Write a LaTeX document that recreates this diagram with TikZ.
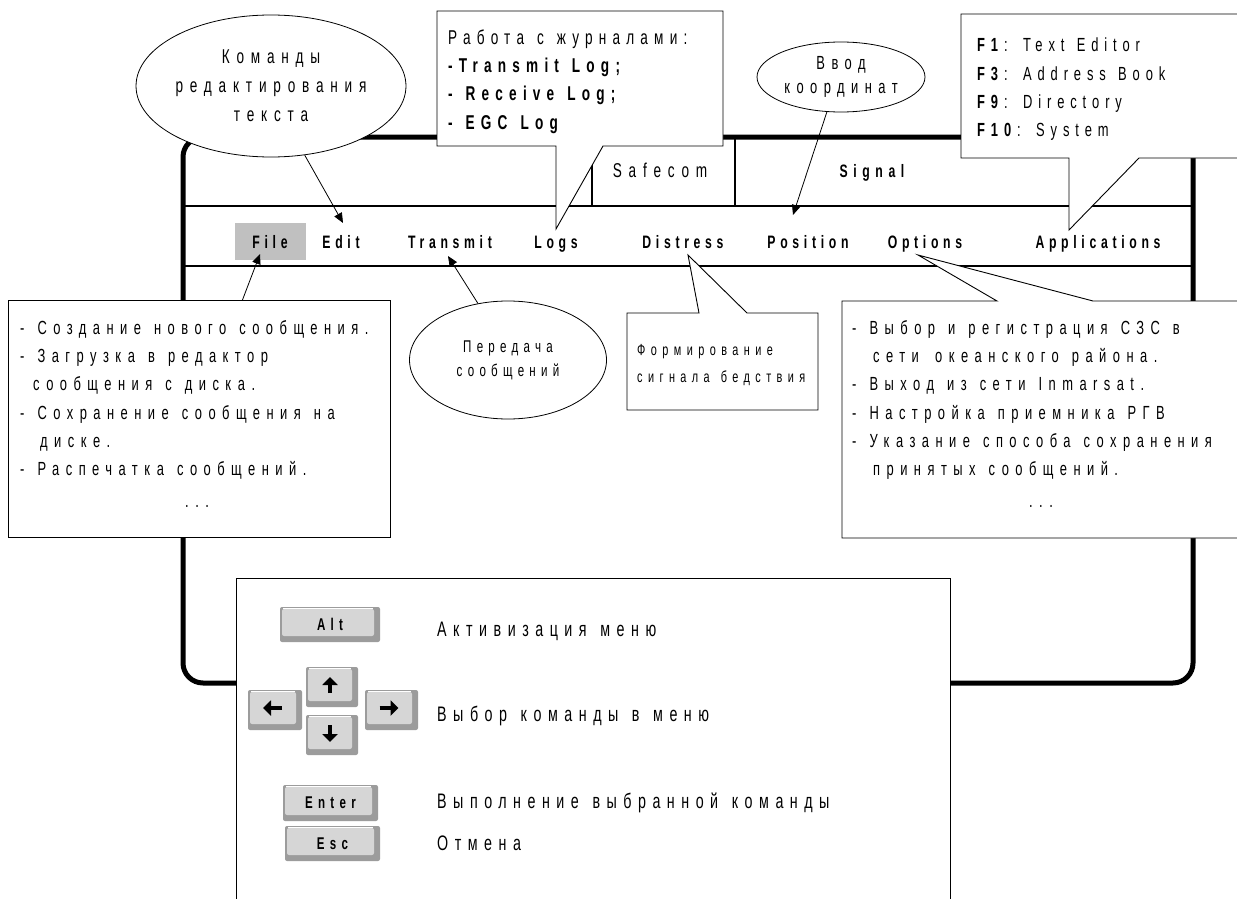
\documentclass[tikz,border=0pt]{standalone}
\usepackage{fontspec}
\setmainfont{Liberation Sans}[FakeStretch=0.68,LetterSpace=34,WordSpace=1.3]
\newfontfamily\lsB{Liberation Sans}[FakeStretch=0.68,LetterSpace=31,WordSpace=1.3]
\newfontfamily\lsC{Liberation Sans}[FakeStretch=0.68,LetterSpace=26,WordSpace=1.3]
\newfontfamily\lsD{Liberation Sans}[FakeStretch=0.68,LetterSpace=31,WordSpace=1.3]
\usetikzlibrary{arrows.meta,shapes.geometric}

\definecolor{menugray}{HTML}{C0C0C0}
\definecolor{keyface}{HTML}{D6D6D6}
\definecolor{keyedge}{HTML}{9C9C9C}

\begin{document}
\begin{tikzpicture}[x=1pt,y=-1pt,
  txt/.style={inner sep=0pt, font=\fontsize{19}{28.3}\selectfont},
  menu/.style={inner sep=0pt, anchor=base, font=\lsC\fontsize{18}{20}\selectfont\bfseries},
  lbl/.style={inner sep=0pt, anchor=west, font=\lsD\fontsize{21}{24}\selectfont},
  bubble/.style={draw=black, line width=0.8pt, fill=white, ellipse, inner sep=0pt, align=center},
  callout/.style={draw=black, line width=0.9pt, fill=white},
  pointer/.style={line width=0.8pt, -{Triangle[length=10pt,width=8.5pt]}},
  keycap/.style={fill=keyedge, rounded corners=2pt, inner sep=0pt,
    font=\lsD\fontsize{17}{18}\selectfont\bfseries,
    path picture={
      \fill[keyface, rounded corners=2pt]
        ([shift={(2pt,-2pt)}]path picture bounding box.north west) rectangle
        ([shift={(-6pt,6pt)}]path picture bounding box.south east);
      \draw[white, line width=1pt]
        ([shift={(3pt,-1.5pt)}]path picture bounding box.north west) --
        ([shift={(-7pt,-1.5pt)}]path picture bounding box.north east);
    }},
  keyarrow/.style={line width=4.5pt, -{Triangle[length=8pt,width=15pt]}},
]
\useasboundingbox (0,0) rectangle (1237,899);
\clip (0,0) rectangle (1237,899);

% program window
\draw[line width=5pt, rounded corners=20pt] (183,137) rectangle (1193,683);
\draw[line width=1.8pt] (183,206) -- (1193,206) (183,266) -- (1193,266);
\draw[line width=1.8pt] (592,137) -- (592,206) (735,137) -- (735,206);

% title bar
\node[inner sep=0pt, anchor=base, font=\fontsize{20}{22}\selectfont] (safecom) at (660,177) {Safecom};
\node[inner sep=0pt, anchor=base, font=\lsD\fontsize{18}{20}\selectfont\bfseries] (signal) at (872,177) {Signal};

% menu bar
\node[fill=menugray, minimum width=71, minimum height=37, inner sep=0pt] (filebg) at (270.5,241.5) {};
\node[menu] (file) at (270,248) {File};
\node[menu] (edit) at (341,248) {Edit};
\node[menu] (transmit) at (450,248) {Transmit};
\node[menu] (logs) at (556,248) {Logs};
\node[menu] (distress) at (683,248) {Distress};
\node[menu] (position) at (808,248) {Position};
\node[menu] (options) at (925,248) {Options};
\node[menu] (apps) at (1098,248) {Applications};

\coordinate (editTip) at (343,223);
\coordinate (fileTip) at (260,254);
\coordinate (transmitTip) at (448,256);
\coordinate (positionTip) at (793,215);

% ellipse notes
\node[bubble, minimum width=262, minimum height=142, font=\fontsize{20}{29}\selectfont]
  (editnote) at (271,86) {Команды\\редактирования\\текста};
\node[bubble, minimum width=168, minimum height=70, font=\fontsize{19}{24}\selectfont]
  (posnote) at (841,77) {Ввод\\координат};
\node[bubble, minimum width=197, minimum height=118, font=\lsB\fontsize{17}{24}\selectfont]
  (transnote) at (508,360) {Передача\\сообщений};

% callout: logs
\draw[callout] (437,11) -- (723,11) -- (723,146) -- (603,146) -- (556,229)
  -- (556,146) -- (437,146) -- cycle;
\node[inner sep=0pt, anchor=north west, align=left, font=\lsB\fontsize{20}{28.3}\selectfont] (logsnote) at (448,29.5)
  {Работа с журналами:\\\textbf{-Transmit Log;}\\\textbf{- Receive Log;}\\\textbf{- EGC Log}};

% callout: applications
\draw[callout] (961,14) -- (1260,14) -- (1260,158) -- (1139,158) -- (1069,230)
  -- (1069,158) -- (961,158) -- cycle;
\node[inner sep=0pt, anchor=north west, align=left, font=\lsB\fontsize{19}{28.3}\selectfont] (appsnote) at (977,38)
  {\textbf{F1}: Text Editor\\\textbf{F3}: Address Book\\\textbf{F9}: Directory\\\textbf{F10}: System};

% callout: distress
\draw[callout] (627,313) -- (699,313) -- (688,255) -- (747,313) -- (818,313)
  -- (818,410) -- (627,410) -- cycle;
\node[inner sep=0pt, anchor=north west, align=left, font=\fontsize{16}{27}\selectfont] (distnote) at (637,344)
  {Формирование\\сигнала бедствия};

% callout: options
\draw[callout] (842,301) -- (997,301) -- (918,255) -- (1093,301) -- (1260,301)
  -- (1260,538) -- (842,538) -- cycle;
\node[txt, anchor=north west, align=left] (optnote) at (852,320)
  {- Выбор и регистрация СЗС в\\\hspace*{21pt}сети\, океанского района.\\- Выход из сети Inmarsat.\\- Настройка приемника РГВ\\- Указание способа сохранения\\\hspace*{21pt}принятых сообщений.\\[4pt]\hspace*{177pt}...};

% box: file menu
\node[callout, minimum width=382, minimum height=237, anchor=north west, inner sep=0pt] (filebox) at (8,300) {};
\node[txt, anchor=north west, align=left] (filenote) at (20,320)
  {- Создание нового сообщения.\\- Загрузка в редактор\\\hspace*{13pt}сообщения с диска.\\- Сохранение сообщения на\\\hspace*{20pt}диске.\\- Распечатка сообщений.\\[4pt]\hspace*{165pt}...};

% connectors
\draw[pointer] (editnote.-64) -- (editTip);
\draw[pointer] (posnote.-112) -- (positionTip);
\draw[pointer] (transnote.118) -- (transmitTip);
\draw[pointer] ([xshift=43pt]filebox.north) -- (fileTip);

% keyboard legend
\node[draw=black, line width=1.3pt, fill=white, minimum width=714, minimum height=340,
  anchor=north west, inner sep=0pt] (keys) at (236,578) {};

\node[keycap, minimum width=100, minimum height=35] (alt) at (330,624.5) {Alt};
\node[keycap, minimum width=52, minimum height=40] (up) at (332,687) {};
\node[keycap, minimum width=54, minimum height=40] (left) at (275,710) {};
\node[keycap, minimum width=53, minimum height=40] (right) at (391.5,710) {};
\node[keycap, minimum width=52, minimum height=40] (down) at (332,735) {};
\node[keycap, minimum width=95, minimum height=36] (enter) at (330.5,803) {Enter};
\node[keycap, minimum width=95, minimum height=35] (esc) at (332.5,843.5) {Esc};

\draw[keyarrow] ([shift={(-2pt,-6pt)}]up.center) -- ([shift={(-2pt,10pt)}]up.center);
\draw[keyarrow] ([shift={(-2pt,10pt)}]down.center) -- ([shift={(-2pt,-7pt)}]down.center);
\draw[keyarrow] ([shift={(7pt,2pt)}]left.center) -- ([shift={(-12pt,2pt)}]left.center);
\draw[keyarrow] ([shift={(-12pt,2pt)}]right.center) -- ([shift={(7pt,2pt)}]right.center);

\node[lbl] (altlbl) at (437,631) {Активизация меню};
\node[lbl] (arrlbl) at (437,716) {Выбор команды в меню};
\node[lbl] (enterlbl) at (437,803) {Выполнение выбранной команды};
\node[lbl] (esclbl) at (437,843) {Отмена};
\end{tikzpicture}
\end{document}
